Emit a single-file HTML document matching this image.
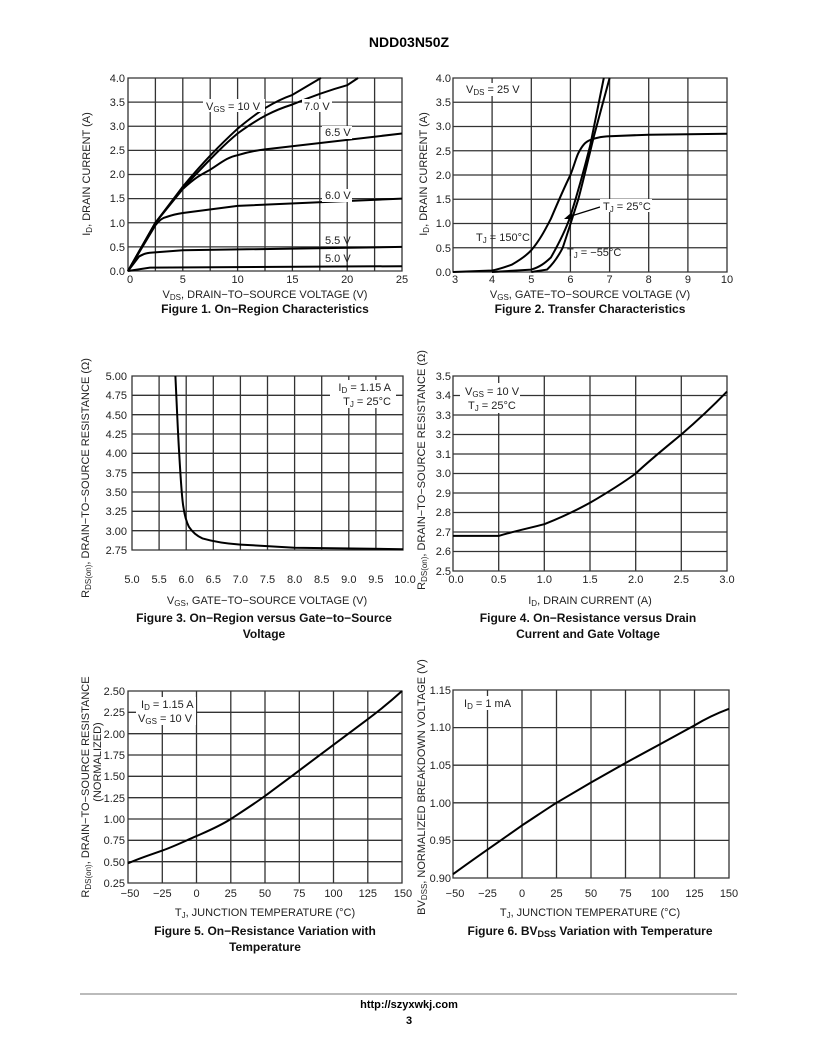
<!DOCTYPE html>
<html><head><meta charset="utf-8"><style>
html,body{margin:0;padding:0;background:#fff}
svg{display:block;font-family:"Liberation Sans",Arial,sans-serif}
.g{stroke:#333;stroke-width:1.3;fill:none}
.c{stroke:#000;stroke-width:2;fill:none}
.t{font-size:11px;fill:#222}
.b{font-size:12px;font-weight:bold;fill:#111}
.s{font-size:8px}
</style></head><body>
<svg width="818" height="1059" viewBox="0 0 818 1059" xmlns="http://www.w3.org/2000/svg">
<text x="409" y="47" text-anchor="middle" font-size="14" font-weight="bold">NDD03N50Z</text>

<!-- Fig 1 -->
<path class="g" d="M128 78H402V271H128Z M155.4 78V271 M182.8 78V271 M210.2 78V271 M237.6 78V271 M265 78V271 M292.4 78V271 M319.8 78V271 M347.2 78V271 M374.6 78V271 M128 102.1H402 M128 126.25H402 M128 150.4H402 M128 174.5H402 M128 198.6H402 M128 222.75H402 M128 246.9H402"/>
<g class="t" text-anchor="end"><text x="125" y="82">4.0</text><text x="125" y="106">3.5</text><text x="125" y="130">3.0</text><text x="125" y="154">2.5</text><text x="125" y="178">2.0</text><text x="125" y="202">1.5</text><text x="125" y="227">1.0</text><text x="125" y="251">0.5</text><text x="125" y="275">0.0</text></g>
<g class="t" text-anchor="middle"><text x="130" y="283">0</text><text x="182.8" y="283">5</text><text x="237.6" y="283">10</text><text x="292.4" y="283">15</text><text x="347.2" y="283">20</text><text x="402" y="283">25</text></g>
<path class="c" d="M128 271L155.4 222.75L182.8 186.6C205 160 220 145 237.6 128.7C260 110 275 101 292.4 94.9L320.9 78"/>
<path class="c" d="M128 271L155.4 222.75L182.8 188C205 165 220 148 237.6 133.5C260 117 275 110 292.4 104.5C315 95 330 90 347.2 85.2L358 78"/>
<path class="c" d="M128 271L155.4 222.75L182.8 189C195 178 200 175 210.2 169.7C222 162 228 157 237.6 155.2C248 152 255 150.5 265 149.4L402 133.5"/>
<path class="c" d="M128 271L155.4 225.2C160 220 162 218 166.4 217C172 215 176 214 182.8 213L237.6 205.9L402 198.6"/>
<path class="c" d="M128 271L139 256.5C143 254 146 253 149.9 252.7L182.8 250.3L402 246.9"/>
<path class="c" d="M128 271L149.9 267.6L402 266.2"/>
<g class="t"><rect x="203" y="99" width="62" height="13" fill="#fff"/><text x="206" y="110">V<tspan class="s" dy="2">GS</tspan><tspan dy="-2"> = 10 V</tspan></text>
<rect x="302" y="99" width="30" height="13" fill="#fff"/><text x="304" y="110">7.0 V</text>
<rect x="322" y="126" width="30" height="13" fill="#fff"/><text x="325" y="136">6.5 V</text>
<rect x="322" y="189" width="30" height="13" fill="#fff"/><text x="325" y="199">6.0 V</text>
<text x="325" y="244">5.5 V</text><text x="325" y="262">5.0 V</text></g>
<text class="t" x="265" y="298" text-anchor="middle">V<tspan class="s" dy="2">DS</tspan><tspan dy="-2">, DRAIN−TO−SOURCE VOLTAGE (V)</tspan></text>
<text class="b" x="265" y="313" text-anchor="middle">Figure 1. On−Region Characteristics</text>
<text class="t" transform="translate(90 174) rotate(-90)" text-anchor="middle">I<tspan class="s" dy="2">D</tspan><tspan dy="-2">, DRAIN CURRENT (A)</tspan></text>

<!-- Fig 2 -->
<path class="g" d="M453 78H727V272H453Z M492.1 78V272 M531.3 78V272 M570.4 78V272 M609.6 78V272 M648.7 78V272 M687.9 78V272 M453 102.25H727 M453 126.5H727 M453 150.75H727 M453 175H727 M453 199.25H727 M453 223.5H727 M453 247.75H727"/>
<g class="t" text-anchor="end"><text x="451" y="82">4.0</text><text x="451" y="106">3.5</text><text x="451" y="130">3.0</text><text x="451" y="155">2.5</text><text x="451" y="179">2.0</text><text x="451" y="203">1.5</text><text x="451" y="227">1.0</text><text x="451" y="252">0.5</text><text x="451" y="276">0.0</text></g>
<g class="t" text-anchor="middle"><text x="455" y="283">3</text><text x="492.1" y="283">4</text><text x="531.3" y="283">5</text><text x="570.4" y="283">6</text><text x="609.6" y="283">7</text><text x="648.7" y="283">8</text><text x="687.9" y="283">9</text><text x="727" y="283">10</text></g>
<path class="c" d="M453 272L492.1 270.5C500 269 505 267 511.7 264.7C520 260 526 256 531.3 250.2C540 240 545 230 550.9 218.7C558 202 564 188 570.4 175C574 166 576 158 578.3 153.2C582 146 585 142 590.1 140.1C598 137 603 136.5 609.6 136.2L648.7 134.7L727 133.8"/>
<path class="c" d="M492 272L531.3 269.6C540 267 545 263 550.9 257.5C558 245 565 232 570.4 216.2C578 192 584 170 590.1 145.9L603.8 78"/>
<path class="c" d="M531.3 272L547 269.6C553 264 558 257 562.7 247.8C568 232 573 216 578.3 199.3C584 178 589 156 593.9 136.2L609.6 78"/>
<path stroke="#000" stroke-width="1.2" d="M600 207L568 217"/><path d="M564 219L572 212L573 219Z"/>
<g class="t"><rect x="464" y="83" width="58" height="13" fill="#fff"/><text x="466" y="93">V<tspan class="s" dy="2">DS</tspan><tspan dy="-2"> = 25 V</tspan></text>
<rect x="600" y="199" width="52" height="13" fill="#fff"/><text x="603" y="210">T<tspan class="s" dy="2">J</tspan><tspan dy="-2"> = 25°C</tspan></text>
<text x="476" y="241">T<tspan class="s" dy="2">J</tspan><tspan dy="-2"> = 150°C</tspan></text>
<text x="567" y="256">T<tspan class="s" dy="2">J</tspan><tspan dy="-2"> = −55°C</tspan></text></g>
<text class="t" x="590" y="298" text-anchor="middle">V<tspan class="s" dy="2">GS</tspan><tspan dy="-2">, GATE−TO−SOURCE VOLTAGE (V)</tspan></text>
<text class="b" x="590" y="313" text-anchor="middle">Figure 2. Transfer Characteristics</text>
<text class="t" transform="translate(427 174) rotate(-90)" text-anchor="middle">I<tspan class="s" dy="2">D</tspan><tspan dy="-2">, DRAIN CURRENT (A)</tspan></text>

<!-- Fig 3 -->
<path class="g" d="M132 376H403V550H132Z M159.1 376V550 M186.2 376V550 M213.3 376V550 M240.4 376V550 M267.5 376V550 M294.6 376V550 M321.7 376V550 M348.8 376V550 M375.9 376V550 M132 395.3H403 M132 414.7H403 M132 434H403 M132 453.3H403 M132 472.7H403 M132 492H403 M132 511.3H403 M132 530.7H403"/>
<g class="t" text-anchor="end"><text x="127" y="380">5.00</text><text x="127" y="399">4.75</text><text x="127" y="419">4.50</text><text x="127" y="438">4.25</text><text x="127" y="457">4.00</text><text x="127" y="477">3.75</text><text x="127" y="496">3.50</text><text x="127" y="515">3.25</text><text x="127" y="535">3.00</text><text x="127" y="554">2.75</text></g>
<g class="t" text-anchor="middle"><text x="132" y="583">5.0</text><text x="159.1" y="583">5.5</text><text x="186.2" y="583">6.0</text><text x="213.3" y="583">6.5</text><text x="240.4" y="583">7.0</text><text x="267.5" y="583">7.5</text><text x="294.6" y="583">8.0</text><text x="321.7" y="583">8.5</text><text x="348.8" y="583">9.0</text><text x="375.9" y="583">9.5</text><text x="405" y="583">10.0</text></g>
<path class="c" d="M175.4 376C177 410 178 435 179.2 453.4C181 485 182 500 183.5 507.5C185 518 187 523 188.9 526.8C193 533 197 536 202.5 538.4C215 542 225 543.5 240.4 544.6L294.6 547.7L403 549.2"/>
<g class="t" text-anchor="end"><rect x="330" y="380" width="66" height="28" fill="#fff"/><text x="391" y="391">I<tspan class="s" dy="2">D</tspan><tspan dy="-2"> = 1.15 A</tspan></text><text x="391" y="405">T<tspan class="s" dy="2">J</tspan><tspan dy="-2"> = 25°C</tspan></text></g>
<text class="t" x="267" y="604" text-anchor="middle">V<tspan class="s" dy="2">GS</tspan><tspan dy="-2">, GATE−TO−SOURCE VOLTAGE (V)</tspan></text>
<text class="b" x="264" y="622" text-anchor="middle">Figure 3. On−Region versus Gate−to−Source</text>
<text class="b" x="264" y="638" text-anchor="middle">Voltage</text>
<text class="t" transform="translate(89 478) rotate(-90)" text-anchor="middle">R<tspan class="s" dy="2">DS(on)</tspan><tspan dy="-2">, DRAIN−TO−SOURCE RESISTANCE (Ω)</tspan></text>

<!-- Fig 4 -->
<path class="g" d="M453 376H727V571H453Z M498.7 376V571 M544.3 376V571 M590 376V571 M635.7 376V571 M681.3 376V571 M453 395.5H727 M453 415H727 M453 434.5H727 M453 454H727 M453 473.5H727 M453 493H727 M453 512.5H727 M453 532H727 M453 551.5H727"/>
<g class="t" text-anchor="end"><text x="451" y="380">3.5</text><text x="451" y="399">3.4</text><text x="451" y="419">3.3</text><text x="451" y="438">3.2</text><text x="451" y="458">3.1</text><text x="451" y="477">3.0</text><text x="451" y="497">2.9</text><text x="451" y="516">2.8</text><text x="451" y="536">2.7</text><text x="451" y="555">2.6</text><text x="451" y="575">2.5</text></g>
<g class="t" text-anchor="middle"><text x="456" y="583">0.0</text><text x="498.7" y="583">0.5</text><text x="544.3" y="583">1.0</text><text x="590" y="583">1.5</text><text x="635.7" y="583">2.0</text><text x="681.3" y="583">2.5</text><text x="727" y="583">3.0</text></g>
<path class="c" d="M453 535.9L498.7 535.9C515 531 530 528 544.3 524.2C560 518 575 511 590 502.8C605 494 620 485 635.7 473.5C650 460 665 448 681.3 434.5C697 421 712 407 727 391.6"/>
<g class="t"><rect x="460" y="383" width="60" height="30" fill="#fff"/><text x="465" y="395">V<tspan class="s" dy="2">GS</tspan><tspan dy="-2"> = 10 V</tspan></text><text x="468" y="409">T<tspan class="s" dy="2">J</tspan><tspan dy="-2"> = 25°C</tspan></text></g>
<text class="t" x="590" y="604" text-anchor="middle">I<tspan class="s" dy="2">D</tspan><tspan dy="-2">, DRAIN CURRENT (A)</tspan></text>
<text class="b" x="588" y="622" text-anchor="middle">Figure 4. On−Resistance versus Drain</text>
<text class="b" x="588" y="638" text-anchor="middle">Current and Gate Voltage</text>
<text class="t" transform="translate(425 470) rotate(-90)" text-anchor="middle">R<tspan class="s" dy="2">DS(on)</tspan><tspan dy="-2">, DRAIN−TO−SOURCE RESISTANCE (Ω)</tspan></text>

<!-- Fig 5 -->
<path class="g" d="M128 691H402V883H128Z M162.3 691V883 M196.5 691V883 M230.8 691V883 M265 691V883 M299.3 691V883 M333.5 691V883 M367.8 691V883 M128 712.3H402 M128 733.7H402 M128 755H402 M128 776.3H402 M128 797.7H402 M128 819H402 M128 840.3H402 M128 861.7H402"/>
<g class="t" text-anchor="end"><text x="125" y="695">2.50</text><text x="125" y="716">2.25</text><text x="125" y="738">2.00</text><text x="125" y="759">1.75</text><text x="125" y="780">1.50</text><text x="125" y="802">1.25</text><text x="125" y="823">1.00</text><text x="125" y="844">0.75</text><text x="125" y="866">0.50</text><text x="125" y="887">0.25</text></g>
<g class="t" text-anchor="middle"><text x="130" y="897">−50</text><text x="162.3" y="897">−25</text><text x="196.5" y="897">0</text><text x="230.8" y="897">25</text><text x="265" y="897">50</text><text x="299.3" y="897">75</text><text x="333.5" y="897">100</text><text x="367.8" y="897">125</text><text x="403" y="897">150</text></g>
<path class="c" d="M128 863.4C140 858 150 855 162.3 850.6C175 846 185 841 196.5 836.1C208 831 220 826 230.8 819C243 811 254 804 265 796C277 787 288 779 299.3 770.4L333.5 744.8L367.8 719.2C380 710 391 701 402 691"/>
<g class="t"><rect x="136" y="697" width="60" height="28" fill="#fff"/><text x="141" y="708">I<tspan class="s" dy="2">D</tspan><tspan dy="-2"> = 1.15 A</tspan></text><text x="138" y="722">V<tspan class="s" dy="2">GS</tspan><tspan dy="-2"> = 10 V</tspan></text></g>
<text class="t" x="265" y="916" text-anchor="middle">T<tspan class="s" dy="2">J</tspan><tspan dy="-2">, JUNCTION TEMPERATURE (°C)</tspan></text>
<text class="b" x="265" y="935" text-anchor="middle">Figure 5. On−Resistance Variation with</text>
<text class="b" x="265" y="951" text-anchor="middle">Temperature</text>
<text class="t" transform="translate(89 787) rotate(-90)" text-anchor="middle">R<tspan class="s" dy="2">DS(on)</tspan><tspan dy="-2">, DRAIN−TO−SOURCE RESISTANCE</tspan></text>
<text class="t" transform="translate(101 762) rotate(-90)" text-anchor="middle">(NORMALIZED)</text>

<!-- Fig 6 -->
<path class="g" d="M453 690H729V878H453Z M487.5 690V878 M522 690V878 M556.5 690V878 M591 690V878 M625.5 690V878 M660 690V878 M694.5 690V878 M453 727.6H729 M453 765.2H729 M453 802.8H729 M453 840.4H729"/>
<g class="t" text-anchor="end"><text x="451" y="694">1.15</text><text x="451" y="731">1.10</text><text x="451" y="769">1.05</text><text x="451" y="807">1.00</text><text x="451" y="844">0.95</text><text x="451" y="882">0.90</text></g>
<g class="t" text-anchor="middle"><text x="455" y="897">−50</text><text x="487.5" y="897">−25</text><text x="522" y="897">0</text><text x="556.5" y="897">25</text><text x="591" y="897">50</text><text x="625.5" y="897">75</text><text x="660" y="897">100</text><text x="694.5" y="897">125</text><text x="729" y="897">150</text></g>
<path class="c" d="M453 874.2C475 858 500 841 522 825.4C535 817 545 810 556.5 802.8L591 782.5L625.5 763L660 744.2L694.5 725.4C705 719 715 714 729 708.8"/>
<g class="t"><rect x="461" y="696" width="56" height="14" fill="#fff"/><text x="464" y="707">I<tspan class="s" dy="2">D</tspan><tspan dy="-2"> = 1 mA</tspan></text></g>
<text class="t" x="590" y="916" text-anchor="middle">T<tspan class="s" dy="2">J</tspan><tspan dy="-2">, JUNCTION TEMPERATURE (°C)</tspan></text>
<text class="b" x="590" y="935" text-anchor="middle">Figure 6. BV<tspan font-size="9" dy="2">DSS</tspan><tspan dy="-2"> Variation with Temperature</tspan></text>
<text class="t" transform="translate(425 787) rotate(-90)" text-anchor="middle">BV<tspan class="s" dy="2">DSS</tspan><tspan dy="-2">, NORMALIZED BREAKDOWN VOLTAGE (V)</tspan></text>

<!-- footer -->
<rect x="80" y="993" width="657" height="2" fill="#bbb"/>
<text x="409" y="1008" text-anchor="middle" font-size="11" font-weight="bold">http://szyxwkj.com</text>
<text x="409" y="1024" text-anchor="middle" font-size="11" font-weight="bold">3</text>
</svg>
</body></html>
